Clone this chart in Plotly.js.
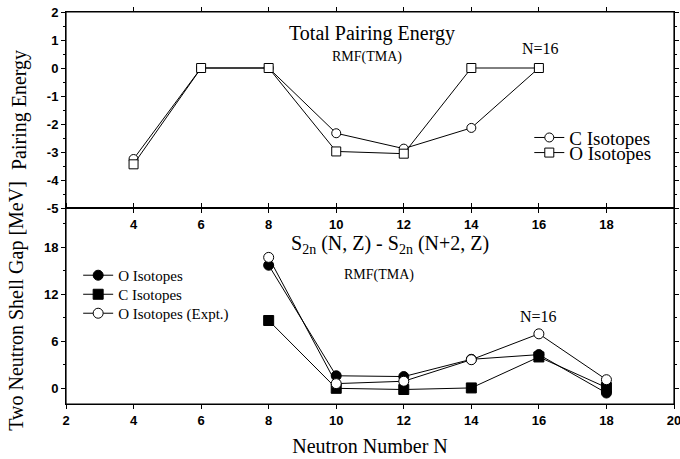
<!DOCTYPE html>
<html>
<head>
<meta charset="utf-8">
<script src="https://cdn.plot.ly/plotly-3.0.1.min.js"></script>
<style>html,body{margin:0;padding:0;background:#fff;overflow:hidden;}#chart{width:680px;height:459px;}</style>
</head>
<body>
<div id="chart"></div>
<script>
// ---- Data ----
// Top panel: total pairing energy
const pairN = [4, 6, 8, 10, 12, 14, 16];
const pairC = [-3.25, 0, 0, -2.33, -2.88, -2.14, 0];
const pairO = [-3.44, 0, 0, -2.98, -3.06, 0, 0];

// Bottom panel: two neutron shell gap
const gapN = [8, 10, 12, 14, 16, 18];
const gapO = [15.7, 1.6, 1.5, 3.7, 4.3, -0.6];
const gapC = [8.65, 0.0, -0.15, 0.05, 4.0, 0.1];
const gapOExpt = [16.7, 0.6, 0.9, 3.65, 6.95, 1.1];

// Tick labels
const xTicksBottom = [2, 4, 6, 8, 10, 12, 14, 16, 18, 20];
const xTicksTop = [4, 6, 8, 10, 12, 14, 16, 18];
const yTicksGap = [0, 6, 12, 18];
const yMinorGap = [3, 9, 15, 21];
const yTicksPair = [-5, -4, -3, -2, -1, 0, 1, 2];

const bold = (arr) => arr.map(v => '<b>' + v + '</b>');

const serif = 'Liberation Serif, Times New Roman, serif';
const tickFont = () => ({family: 'Liberation Sans, Arial, sans-serif', size: 13, color: '#000'});

const lineStyle = {color: '#000', width: 1};
const openMarker = (sym) => ({symbol: sym, size: 9, color: '#fff', line: {color: '#000', width: 1}});
const fillMarker = (sym) => ({symbol: sym, size: 10, color: '#000', line: {color: '#000', width: 1}});

const traces = [
  {x: pairN, y: pairC, xaxis: 'x2', yaxis: 'y2', mode: 'lines+markers', name: 'C Isotopes',
   line: lineStyle, marker: openMarker('circle'), legend: 'legend', showlegend: true},
  {x: pairN, y: pairO, xaxis: 'x2', yaxis: 'y2', mode: 'lines+markers', name: 'O Isotopes',
   line: lineStyle, marker: openMarker('square'), legend: 'legend3', showlegend: true},
  {x: gapN, y: gapO, xaxis: 'x', yaxis: 'y', mode: 'lines+markers', name: 'O Isotopes',
   line: lineStyle, marker: fillMarker('circle'), legend: 'legend2', showlegend: true},
  {x: gapN, y: gapC, xaxis: 'x', yaxis: 'y', mode: 'lines+markers', name: 'C Isotopes',
   line: lineStyle, marker: fillMarker('square'), legend: 'legend4', showlegend: true},
  {x: gapN, y: gapOExpt, xaxis: 'x', yaxis: 'y', mode: 'lines+markers', name: 'O Isotopes (Expt.)',
   line: lineStyle, marker: {symbol: 'circle', size: 10, color: '#fff', line: {color: '#000', width: 1}},
   legend: 'legend5', showlegend: true}
];

const mainAx = (extra) => Object.assign({
  showgrid: false, zeroline: false, showline: true, linecolor: '#000', linewidth: 1, mirror: 'ticks',
  ticks: 'outside', ticklen: 4, tickcolor: '#000', tickwidth: 1, tickfont: tickFont()
}, extra);

const legendBase = {xanchor: 'left', yanchor: 'top', bgcolor: 'rgba(0,0,0,0)', tracegroupgap: 0, itemwidth: 30, visible: true};

const layout = {
  width: 680, height: 459,
  margin: {l: 66, r: 6, t: 12, b: 55},
  paper_bgcolor: '#fff', plot_bgcolor: '#fff',
  font: {family: serif, color: '#000'},
  showlegend: true,
  // bottom panel
  xaxis: mainAx({domain: [0, 1], anchor: 'y', range: [2, 20],
    tickvals: xTicksBottom, ticktext: bold(xTicksBottom), ticklabeloverflow: 'allow',
    title: {text: 'Neutron Number N', font: {family: serif, size: 20}, standoff: 12}}),
  yaxis: mainAx({domain: [0, 0.5], anchor: 'x', range: [-2, 23],
    tickvals: yTicksGap, ticktext: bold(yTicksGap),
    minor: {tickvals: yMinorGap, ticks: 'outside', ticklen: 2, tickcolor: '#000'},
    title: {text: 'Two Neutron Shell Gap [MeV]', font: {family: serif, size: 20}, standoff: 14}}),
  // top panel
  xaxis2: mainAx({domain: [0, 1], anchor: 'y2', range: [2, 20],
    tickvals: xTicksTop, ticktext: bold(xTicksTop)}),
  yaxis2: mainAx({domain: [0.5, 1], anchor: 'x2', range: [-5, 2],
    tickvals: yTicksPair, ticktext: bold(yTicksPair),
    minor: {dtick: 0.5, tick0: 0, ticks: 'outside', ticklen: 2, tickcolor: '#000'},
    title: {text: 'Pairing Energy', font: {family: serif, size: 20}, standoff: 14}}),
  // outer frame of the plotting area (paper-relative)
  shapes: [
    {type: 'rect', xref: 'paper', yref: 'paper', x0: 0, x1: 1, y0: 0, y1: 1,
     line: {color: '#000', width: 1.2}, fillcolor: 'rgba(0,0,0,0)', layer: 'above'}
  ],
  legend: Object.assign({}, legendBase, {x: 0.762, y: 0.728, font: {family: serif, size: 19, color: '#000'}}),
  legend3: Object.assign({}, legendBase, {x: 0.762, y: 0.6895, font: {family: serif, size: 19, color: '#000'}}),
  legend2: Object.assign({}, legendBase, {x: 0.020, y: 0.370, font: {family: serif, size: 15, color: '#000'}}),
  legend4: Object.assign({}, legendBase, {x: 0.020, y: 0.3214, font: {family: serif, size: 15, color: '#000'}}),
  legend5: Object.assign({}, legendBase, {x: 0.020, y: 0.273, font: {family: serif, size: 15, color: '#000'}}),
  annotations: [
    {xref: 'x2', yref: 'y2', x: 11.06, y: 1.25, text: 'Total Pairing Energy', showarrow: false,
     font: {family: serif, size: 20}},
    {xref: 'x2', yref: 'y2', x: 10.9, y: 0.39, text: 'RMF(TMA)', showarrow: false,
     font: {family: serif, size: 14}},
    {xref: 'x2', yref: 'y2', x: 16.06, y: 0.68, text: 'N=16', showarrow: false,
     font: {family: serif, size: 16}},
    {xref: 'x', yref: 'y', x: 11.58, y: 18.4, text: 'S<sub>2n</sub> (N, Z) - S<sub>2n</sub> (N+2, Z)', showarrow: false,
     font: {family: serif, size: 20}},
    {xref: 'x', yref: 'y', x: 11.27, y: 14.4, text: 'RMF(TMA)', showarrow: false,
     font: {family: serif, size: 14}},
    {xref: 'x', yref: 'y', x: 16.0, y: 9.15, text: 'N=16', showarrow: false,
     font: {family: serif, size: 16}}
  ]
};

Plotly.newPlot('chart', traces, layout, {displayModeBar: false, staticPlot: true});
</script>
</body>
</html>
